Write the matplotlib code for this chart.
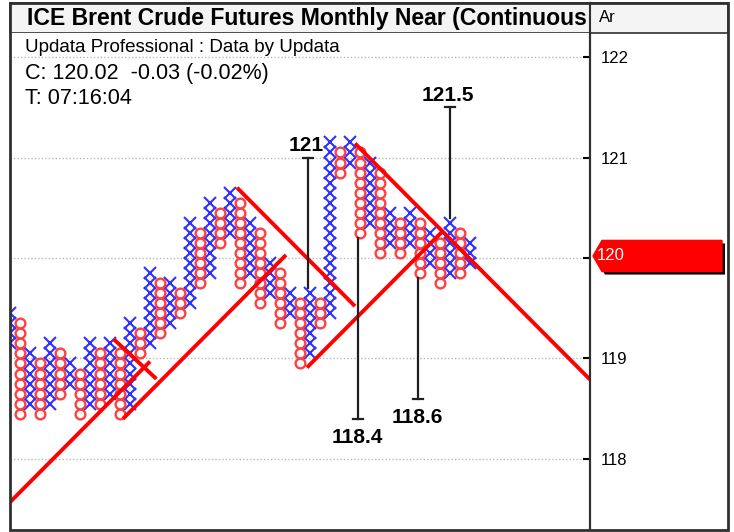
import numpy as np
import matplotlib
matplotlib.use("Agg")
from matplotlib import pyplot
from matplotlib import transforms
from matplotlib.patches import Rectangle, Polygon

# point & figure columns (box lower edges), alternating X / O starting with X
col_low = [119.1, 118.4, 118.5, 118.4, 118.5, 118.6, 118.7, 118.4, 118.5, 118.5,
           118.6, 118.4, 118.5, 119.0, 119.1, 119.2, 119.3, 119.4, 119.5, 119.7,
           119.8, 120.1, 120.2, 119.7, 119.8, 119.5, 119.6, 119.3, 119.4, 118.9,
           119.0, 119.3, 119.4, 120.8, 120.9, 120.2, 120.3, 120.0, 120.1, 120.0,
           120.1, 119.8, 119.9, 119.7, 119.8, 119.8, 119.9]
col_high = [119.4, 119.3, 119.0, 118.9, 119.1, 119.0, 118.9, 118.8, 119.1, 119.0,
            119.1, 119.0, 119.3, 119.2, 119.8, 119.7, 119.7, 119.6, 120.3, 120.2,
            120.5, 120.4, 120.6, 120.5, 120.3, 120.2, 119.9, 119.8, 119.6, 119.5,
            119.6, 119.5, 121.1, 121.0, 121.1, 121.0, 120.9, 120.8, 120.4, 120.3,
            120.4, 120.3, 120.2, 120.1, 120.3, 120.2, 120.1]
box = 0.1

# 45 degree trend lines: (start column, start price, end column, direction)
trend_lines = [(0.0, 117.57, 14.0, 1), (11.3, 118.40, 27.6, 1), (22.7, 120.70, 34.5, -1),
               (29.7, 118.91, 43.2, 1), (34.5, 121.14, 58.0, -1)]
break_mark = (10.5, 119.18, 14.5, 118.81)

# vertical count targets: (column, from price, target)
targets = [(29.8, 119.7, 121.0), (34.8, 120.2, 118.4), (40.8, 119.8, 118.6), (44.0, 120.4, 121.5)]

price_ticks = [118, 119, 120, 121, 122]
last_close = 120.02

W, H = 734, 532


def fx(px):
    return px / W


def fy(py):
    return 1 - py / H


pyplot.rcParams['font.family'] = ['Liberation Sans', 'DejaVu Sans']
fig = pyplot.figure(figsize=(W / 100, H / 100), dpi=100)
fig.patch.set_facecolor("white")

ax = fig.add_axes([fx(10), fy(530), 580 / W, 497 / H])
ax.set_xlim(0, 58)
ax.set_ylim(117.293, 122.239)

for k, (lo, hi) in enumerate(zip(col_low, col_high)):
    levels = np.round(np.arange(lo, hi + box / 2, box), 2) + box / 2
    if k % 2 == 0:
        ax.plot([k] * len(levels), levels, linestyle="none", marker="x", ms=8, mew=1.5,
                color="#3030ff", zorder=3)
    else:
        ax.plot([k] * len(levels), levels, linestyle="none", marker="o", ms=7.0, mew=1.7,
                mfc="white", color="#ff4040", zorder=4)

for k0, p0, k1, d in trend_lines:
    ax.plot([k0, k1], [p0, p0 + d * box * (k1 - k0)], color="#ff0000", lw=2.8,
            solid_capstyle="butt", zorder=5)
ax.plot(break_mark[0::2], break_mark[1::2], color="#ff0000", lw=2.8, zorder=5)

for k, start, target in targets:
    ax.plot([k, k], [start, target], color="#202020", lw=1.6, zorder=6)
    ax.plot([k - 0.5, k + 0.5], [target, target], color="#202020", lw=1.6, zorder=6)
    if target > start:
        ax.text(k - 0.2, target + 0.02, "{:g}".format(target), ha="center", va="bottom",
                fontsize=15, fontweight="bold", zorder=7)
    else:
        ax.text(k - 0.1, target - 0.09, "{:g}".format(target), ha="center", va="top",
                fontsize=15, fontweight="bold", zorder=7)

ax.set_yticks(price_ticks)
# the 120 label sits under the last price marker
ax.set_yticklabels(["" if t == round(last_close) else str(t) for t in price_ticks])
ax.set_xticks([])
ax.yaxis.tick_right()
ax.tick_params(axis="y", direction="in", length=5, width=1.5, pad=8, labelsize=12,
               colors="black")
ax.grid(visible=True, axis="y", linestyle=(0, (1, 1.5)), color="#b8b8b8", lw=1)
for s in ["top", "bottom", "left"]:
    ax.spines[s].set_visible(False)
ax.spines["right"].set_linewidth(1.5)

# header texts
ax.text(15 / 580, 1 - 14 / 497, "Updata Professional : Data by Updata", transform=ax.transAxes,
        fontsize=13.5, va="center", ha="left")
ax.text(15 / 580, 1 - 40 / 497, "C: 120.02  -0.03 (-0.02%)", transform=ax.transAxes,
        fontsize=15.5, va="center", ha="left")
ax.text(15 / 580, 1 - 66 / 497, "T: 07:16:04", transform=ax.transAxes,
        fontsize=15.5, va="center", ha="left")

# last price marker on the price scale
tr = transforms.blended_transform_factory(fig.transFigure, ax.transData)
half = 0.155
shape = [(fx(593), last_close), (fx(602), last_close + half), (fx(722), last_close + half),
         (fx(722), last_close - half), (fx(602), last_close - half)]
shadow = [(x + 3 / W, y - 0.03) for x, y in shape]
fig.patches.append(Polygon(shadow, closed=True, transform=tr, facecolor="black",
                           edgecolor="none", zorder=8))
fig.patches.append(Polygon(shape, closed=True, transform=tr, facecolor="#ff0000",
                           edgecolor="#ff0000", zorder=9))
fig.text(fx(597), last_close, "{:.0f}".format(last_close), transform=tr, color="white",
         fontsize=12, va="center", ha="left", zorder=10)

# title bar (title is cut off at the price scale, as on screen)
fig.patches.append(Rectangle((fx(10), fy(33)), 718 / W, 30 / H, transform=fig.transFigure,
                             facecolor="#f4f4f4", edgecolor="#303030", lw=1.2, zorder=-1))
tax = fig.add_axes([fx(10), fy(33), 580 / W, 30 / H])
tax.set_zorder(2)
tax.axis("off")
tax.text(17 / 580, 0.5, "ICE Brent Crude Futures Monthly Near (Continuous", fontsize=16.6,
         fontweight="bold", va="center", ha="left", clip_on=True, transform=tax.transAxes)
fig.text(fx(599), fy(18), "Ar", fontsize=12, va="center", ha="left")
fig.lines.append(pyplot.Line2D([fx(590), fx(590)], [fy(530), fy(3)], transform=fig.transFigure,
                               color="#303030", lw=1.5))

# outer frame
fig.patches.append(Rectangle((fx(10), fy(530)), 718 / W, 527 / H, transform=fig.transFigure,
                             facecolor="none", edgecolor="#303030", lw=2, zorder=20))

fig.savefig("out.png", dpi=100)
